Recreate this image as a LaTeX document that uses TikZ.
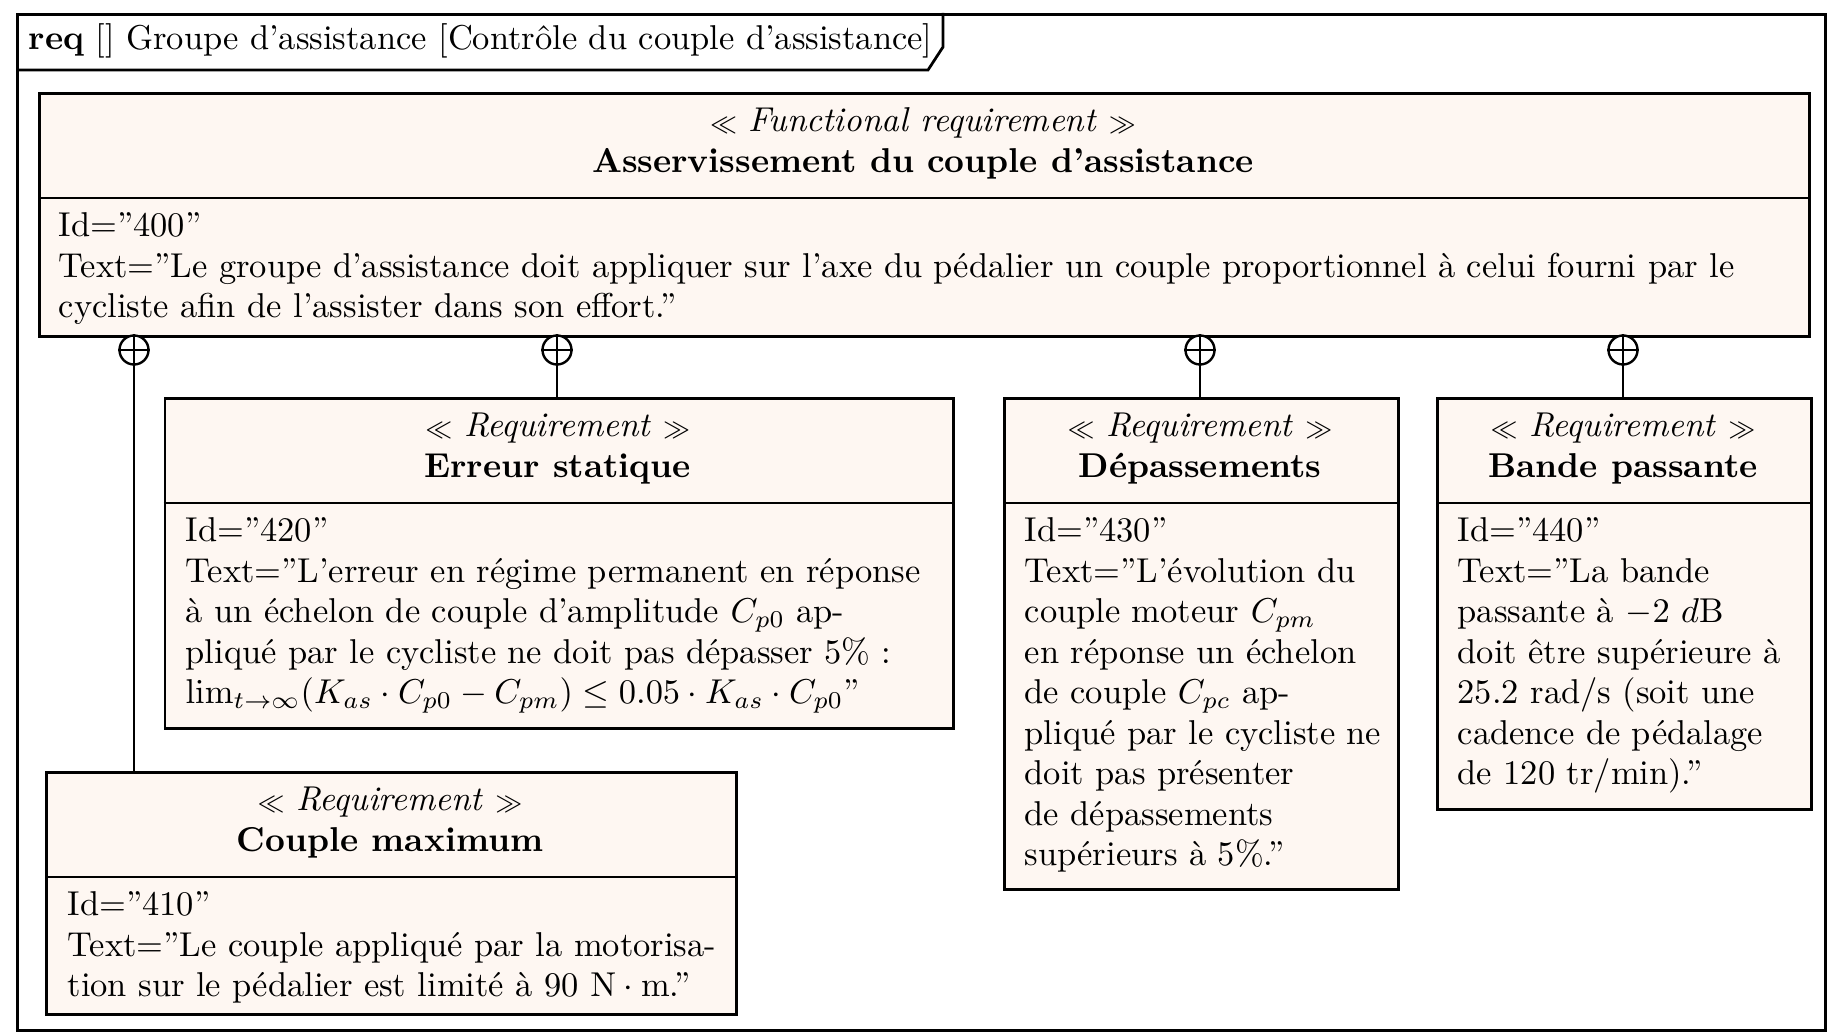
\documentclass[tikz,border=0pt]{standalone}
\definecolor{reqfill}{RGB}{254,247,242}
\newcommand{\stl}{{\scriptsize$\ll$}}
\newcommand{\stg}{{\scriptsize$\gg$}}
\tikzset{
  frameline/.style={line width=0.8pt},
  reqbox/.style={draw, line width=0.8pt, fill=reqfill, anchor=north west, inner sep=0pt},
  frameb/.style={draw, line width=0.8pt, anchor=north west, inner sep=0pt},
  sepline/.style={line width=0.8pt},
  lbl/.style={inner sep=0pt, font=\fontsize{10}{11.745}\selectfont},
  body/.style={lbl, align=left, anchor=north west},
  head/.style={lbl, anchor=base},
  conn/.style={line width=0.6pt},
  contain/.style={circle, draw, line width=0.7pt, fill=white, minimum size=8.41pt, inner sep=0pt},
}
\begin{document}
\begin{tikzpicture}[x=0.29pt, y=-0.29pt]
\useasboundingbox (0,0) rectangle (1831,1032);
% outer frame and title tab
\node[frameb, minimum width=524.32pt, minimum height=294.64pt] (frame) at (16,13) {};
\coordinate (tA) at (16,70);
\coordinate (tB) at (928,70);
\coordinate (tC) at (943,47);
\coordinate (tD) at (943,13);
\draw[frameline] (tA) -- (tB) -- (tC) -- (tD);
\node[lbl, anchor=base west] (title) at (28,50) {\textbf{req} [] Groupe d’assistance [Contrôle du couple d’assistance]};

% main requirement
\node[reqbox, minimum width=513.3pt, minimum height=70.47pt] (main) at (38,92) {};
\draw[sepline] ([yshift=-30.74pt]main.north west) -- ([yshift=-30.74pt]main.north east);
\node[head] (mainst) at (923,132) {\stl{} \textit{Functional requirement} \stg};
\node[head] (mainname) at (923,173) {\textbf{Asservissement du couple d’assistance}};
\node[body] (mainbody) at (58,207.65) {\strut Id=”400”\\Text=”Le groupe d’assistance doit appliquer sur l’axe du pédalier un couple proportionnel à celui fourni par le\\cycliste afin de l’assister dans son effort.”};

% Erreur statique
\node[reqbox, minimum width=228.67pt, minimum height=95.7pt] (r420) at (163.5,397) {};
\draw[sepline] ([yshift=-30.74pt]r420.north west) -- ([yshift=-30.74pt]r420.north east);
\node[head] (r420st) at (557.75,437) {\stl{} \textit{Requirement} \stg};
\node[head] (r420name) at (557.75,478) {\textbf{Erreur statique}};
\node[body] (r420body) at (185,512.65) {\strut Id=”420”\\Text=”L’erreur en régime permanent en réponse\\à un échelon de couple d’amplitude $C_{p0}$ ap-\\pliqué par le cycliste ne doit pas dépasser 5\% :\\$\lim_{t\to\infty}(K_{as}\cdot C_{p0}-C_{pm})\leq 0.05\cdot K_{as}\cdot C_{p0}$”};

% Depassements
\node[reqbox, minimum width=114.26pt, minimum height=142.39pt] (r430) at (1003,397) {};
\draw[sepline] ([yshift=-30.74pt]r430.north west) -- ([yshift=-30.74pt]r430.north east);
\node[head] (r430st) at (1200,437) {\stl{} \textit{Requirement} \stg};
\node[head] (r430name) at (1200,478) {\textbf{Dépassements}};
\node[body] (r430body) at (1024,512.65) {\strut Id=”430”\\Text=”L’évolution du\\couple moteur $C_{pm}$\\en réponse un échelon\\de couple $C_{pc}$ ap-\\pliqué par le cycliste ne\\doit pas présenter\\de dépassements\\supérieurs à 5\%.”};

% Bande passante
\node[reqbox, minimum width=108.46pt, minimum height=119.19pt] (r440) at (1436,397) {};
\draw[sepline] ([yshift=-30.74pt]r440.north west) -- ([yshift=-30.74pt]r440.north east);
\node[head] (r440st) at (1623,437) {\stl{} \textit{Requirement} \stg};
\node[head] (r440name) at (1623,478) {\textbf{Bande passante}};
\node[body] (r440body) at (1457,512.65) {\strut Id=”440”\\Text=”La bande\\passante à $-2$ $d$B\\doit être supérieure à\\25.2 rad/s (soit une\\cadence de pédalage\\de 120 tr/min).”};

% Couple maximum
\node[reqbox, minimum width=200.1pt, minimum height=70.18pt] (r410) at (45,771) {};
\draw[sepline] ([yshift=-30.74pt]r410.north west) -- ([yshift=-30.74pt]r410.north east);
\node[head] (r410st) at (390,811) {\stl{} \textit{Requirement} \stg};
\node[head] (r410name) at (390,852) {\textbf{Couple maximum}};
\node[body] (r410body) at (67,886.65) {\strut Id=”410”\\Text=”Le couple appliqué par la motorisa-\\tion sur le pédalier est limité à 90 $\mathrm{N}\cdot\mathrm{m}$.”};

% containment connectors
\foreach \n/\x in {c1/134, c2/557, c3/1200, c4/1623}{
  \node[contain] (\n) at (\x,350) {};
  \draw[line width=0.7pt] (\n.north) -- (\n.south) (\n.west) -- (\n.east);
}
\draw[conn] (c1.south) -- (c1.south |- r410.north);
\draw[conn] (c2.south) -- (c2.south |- r420.north);
\draw[conn] (c3.south) -- (c3.south |- r430.north);
\draw[conn] (c4.south) -- (c4.south |- r440.north);
\end{tikzpicture}
\end{document}
